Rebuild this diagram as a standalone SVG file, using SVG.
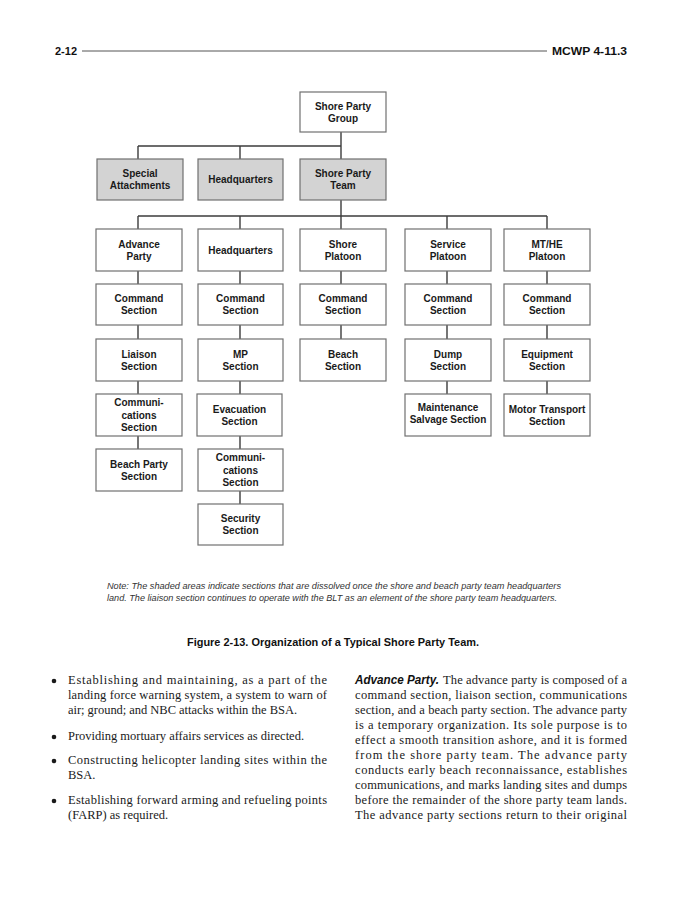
<svg xmlns="http://www.w3.org/2000/svg" width="695" height="899" viewBox="0 0 695 899">
<style>
.bg{fill:#fff}
.box{fill:#fff;stroke:#707070;stroke-width:1.2}
.shade{fill:#d3d3d3}
.lbl{font-family:"Liberation Sans",Arial,sans-serif;font-weight:bold;font-size:10px;text-anchor:middle;fill:#1a1a1a}
.con{fill:none;stroke:#3c3c3c;stroke-width:1.4}
.hdr{font-family:"Liberation Sans",Arial,sans-serif;font-weight:bold;font-size:11.5px;fill:#111}
.note{font-family:"Liberation Sans",Arial,sans-serif;font-style:italic;font-size:9.5px;fill:#333}
.cap{font-family:"Liberation Sans",Arial,sans-serif;font-weight:bold;font-size:11px;fill:#111}
.body{font-family:"Liberation Serif","Times New Roman",serif;font-size:12.5px;fill:#1a1a1a}
.lead{font-family:"Liberation Sans",Arial,sans-serif;font-weight:bold;font-style:italic;font-size:12px;fill:#111}
</style>
<rect class="bg" x="0" y="0" width="695" height="899"/>

<!-- header -->
<text class="hdr" x="55" y="55" textLength="22" lengthAdjust="spacingAndGlyphs">2-12</text>
<line x1="82" y1="51" x2="547" y2="51" stroke="#555" stroke-width="1"/>
<text class="hdr" x="552" y="55" textLength="75" lengthAdjust="spacingAndGlyphs">MCWP 4-11.3</text>

<!-- connectors -->
<g id="connectors" class="con">
<path d="M341,132 V146 M138,146 H341 M138,146 V159 M240,146 V159 M341,146 V159"/>
<path d="M341,200 V216 M138,216 H547 M138,216 V229 M240,216 V229 M341,216 V229 M447,216 V229 M547,216 V229"/>
<path d="M138,271 V284 M138,325 V339 M138,381 V394 M138,436 V449"/>
<path d="M240,271 V284 M240,325 V339 M240,381 V394 M240,436 V449 M240,491 V504"/>
<path d="M341,271 V284 M341,325 V339"/>
<path d="M447,271 V284 M447,325 V339 M447,381 V394"/>
<path d="M547,271 V284 M547,325 V339 M547,381 V394"/>
</g>

<!-- level 1 -->
<g id="shore-party-group"><rect class="box" x="300" y="92" width="86" height="40"/><text class="lbl" x="343" y="109.5">Shore Party</text><text class="lbl" x="343" y="121.5">Group</text></g>

<!-- level 2 -->
<g id="special-attachments"><rect class="box shade" x="97" y="159" width="86" height="41"/><text class="lbl" x="140" y="177">Special</text><text class="lbl" x="140" y="189">Attachments</text></g>
<g id="headquarters-top"><rect class="box shade" x="198" y="159" width="85" height="41"/><text class="lbl" x="240.5" y="183">Headquarters</text></g>
<g id="shore-party-team"><rect class="box shade" x="300" y="159" width="86" height="41"/><text class="lbl" x="343" y="177">Shore Party</text><text class="lbl" x="343" y="189">Team</text></g>

<!-- column 1 -->
<g id="advance-party"><rect class="box" x="96" y="229" width="86" height="42"/><text class="lbl" x="139" y="247.5">Advance</text><text class="lbl" x="139" y="259.5">Party</text></g>
<g id="ap-command"><rect class="box" x="96" y="284" width="86" height="41"/><text class="lbl" x="139" y="302">Command</text><text class="lbl" x="139" y="314">Section</text></g>
<g id="ap-liaison"><rect class="box" x="96" y="339" width="86" height="42"/><text class="lbl" x="139" y="357.5">Liaison</text><text class="lbl" x="139" y="369.5">Section</text></g>
<g id="ap-communications"><rect class="box" x="96" y="394" width="86" height="42"/><text class="lbl" x="139" y="406">Communi-</text><text class="lbl" x="139" y="418.5">cations</text><text class="lbl" x="139" y="431">Section</text></g>
<g id="ap-beach-party"><rect class="box" x="96" y="449" width="86" height="42"/><text class="lbl" x="139" y="467.5">Beach Party</text><text class="lbl" x="139" y="479.5">Section</text></g>

<!-- column 2 -->
<g id="headquarters"><rect class="box" x="198" y="229" width="85" height="42"/><text class="lbl" x="240.5" y="253.5">Headquarters</text></g>
<g id="hq-command"><rect class="box" x="198" y="284" width="85" height="41"/><text class="lbl" x="240.5" y="302">Command</text><text class="lbl" x="240.5" y="314">Section</text></g>
<g id="hq-mp"><rect class="box" x="198" y="339" width="85" height="42"/><text class="lbl" x="240.5" y="357.5">MP</text><text class="lbl" x="240.5" y="369.5">Section</text></g>
<g id="hq-evacuation"><rect class="box" x="197" y="394" width="85" height="42"/><text class="lbl" x="239.5" y="412.5">Evacuation</text><text class="lbl" x="239.5" y="424.5">Section</text></g>
<g id="hq-communications"><rect class="box" x="198" y="449" width="85" height="42"/><text class="lbl" x="240.5" y="461">Communi-</text><text class="lbl" x="240.5" y="473.5">cations</text><text class="lbl" x="240.5" y="486">Section</text></g>
<g id="hq-security"><rect class="box" x="198" y="504" width="85" height="41"/><text class="lbl" x="240.5" y="522">Security</text><text class="lbl" x="240.5" y="534">Section</text></g>

<!-- column 3 -->
<g id="shore-platoon"><rect class="box" x="300" y="229" width="86" height="42"/><text class="lbl" x="343" y="247.5">Shore</text><text class="lbl" x="343" y="259.5">Platoon</text></g>
<g id="sp-command"><rect class="box" x="300" y="284" width="86" height="41"/><text class="lbl" x="343" y="302">Command</text><text class="lbl" x="343" y="314">Section</text></g>
<g id="sp-beach"><rect class="box" x="300" y="339" width="86" height="42"/><text class="lbl" x="343" y="357.5">Beach</text><text class="lbl" x="343" y="369.5">Section</text></g>

<!-- column 4 -->
<g id="service-platoon"><rect class="box" x="405" y="229" width="86" height="42"/><text class="lbl" x="448" y="247.5">Service</text><text class="lbl" x="448" y="259.5">Platoon</text></g>
<g id="svc-command"><rect class="box" x="405" y="284" width="86" height="41"/><text class="lbl" x="448" y="302">Command</text><text class="lbl" x="448" y="314">Section</text></g>
<g id="svc-dump"><rect class="box" x="405" y="339" width="86" height="42"/><text class="lbl" x="448" y="357.5">Dump</text><text class="lbl" x="448" y="369.5">Section</text></g>
<g id="svc-maintenance"><rect class="box" x="405" y="394" width="86" height="42"/><text class="lbl" x="448" y="411">Maintenance</text><text class="lbl" x="448" y="423">Salvage Section</text></g>

<!-- column 5 -->
<g id="mthe-platoon"><rect class="box" x="504" y="229" width="86" height="42"/><text class="lbl" x="547" y="247.5">MT/HE</text><text class="lbl" x="547" y="259.5">Platoon</text></g>
<g id="mt-command"><rect class="box" x="504" y="284" width="86" height="41"/><text class="lbl" x="547" y="302">Command</text><text class="lbl" x="547" y="314">Section</text></g>
<g id="mt-equipment"><rect class="box" x="504" y="339" width="86" height="42"/><text class="lbl" x="547" y="357.5">Equipment</text><text class="lbl" x="547" y="369.5">Section</text></g>
<g id="mt-motor-transport"><rect class="box" x="504" y="394" width="86" height="42"/><text class="lbl" x="547" y="413">Motor Transport</text><text class="lbl" x="547" y="425">Section</text></g>

<!-- note and caption -->
<text class="note" x="107" y="589" textLength="454" lengthAdjust="spacingAndGlyphs">Note:  The shaded areas indicate sections that are dissolved once the shore and beach party team headquarters</text>
<text class="note" x="107" y="601" textLength="450" lengthAdjust="spacingAndGlyphs">land.  The liaison section continues to operate with the BLT as an element of the shore party team headquarters.</text>
<text class="cap" x="187" y="646" textLength="292" lengthAdjust="spacingAndGlyphs">Figure 2-13. Organization of a Typical Shore Party Team.</text>

<!-- left column body -->
<g fill="#1a1a1a">
<circle cx="54" cy="681" r="2.3"/>
<circle cx="54" cy="737" r="2.3"/>
<circle cx="54" cy="761" r="2.3"/>
<circle cx="54" cy="801" r="2.3"/>
</g>
<text class="body" x="68" y="684" textLength="259" lengthAdjust="spacing">Establishing and maintaining, as a part of the</text>
<text class="body" x="68" y="699" textLength="259" lengthAdjust="spacing">landing force warning system, a system to warn of</text>
<text class="body" x="68" y="714" textLength="229" lengthAdjust="spacing">air; ground; and NBC attacks within the BSA.</text>
<text class="body" x="68" y="740" textLength="236" lengthAdjust="spacing">Providing mortuary affairs services as directed.</text>
<text class="body" x="68" y="764" textLength="259" lengthAdjust="spacing">Constructing helicopter landing sites within the</text>
<text class="body" x="68" y="779">BSA.</text>
<text class="body" x="68" y="804" textLength="259" lengthAdjust="spacing">Establishing forward arming and refueling points</text>
<text class="body" x="68" y="819">(FARP) as required.</text>

<!-- right column body -->
<text class="lead" x="355" y="684" textLength="84" lengthAdjust="spacingAndGlyphs">Advance Party.</text>
<text class="body" x="443" y="684" textLength="184" lengthAdjust="spacing">The advance party is composed of a</text>
<text class="body" x="355" y="699" textLength="272" lengthAdjust="spacing">command section, liaison section, communications</text>
<text class="body" x="355" y="714" textLength="272" lengthAdjust="spacing">section, and a beach party section. The advance party</text>
<text class="body" x="355" y="729" textLength="272" lengthAdjust="spacing">is a temporary organization. Its sole purpose is to</text>
<text class="body" x="355" y="744" textLength="272" lengthAdjust="spacing">effect a smooth transition ashore, and it is formed</text>
<text class="body" x="355" y="759" textLength="272" lengthAdjust="spacing">from the shore party team. The advance party</text>
<text class="body" x="355" y="774" textLength="272" lengthAdjust="spacing">conducts early beach reconnaissance, establishes</text>
<text class="body" x="355" y="789" textLength="272" lengthAdjust="spacing">communications, and marks landing sites and dumps</text>
<text class="body" x="355" y="804" textLength="272" lengthAdjust="spacing">before the remainder of the shore party team lands.</text>
<text class="body" x="355" y="819" textLength="272" lengthAdjust="spacing">The advance party sections return to their original</text>
</svg>
